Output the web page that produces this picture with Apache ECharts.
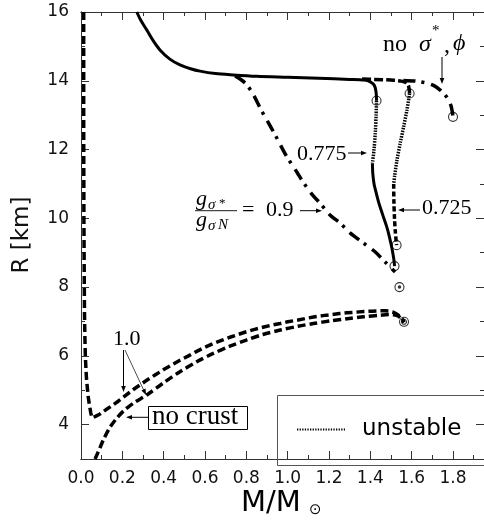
<!DOCTYPE html>
<html><head><meta charset="utf-8">
<script src="https://cdn.jsdelivr.net/npm/echarts@6/dist/echarts.min.js"></script>
<style>html,body{margin:0;padding:0;background:#fff}#c{width:484px;height:520px}</style>
</head><body><div id="c"></div>
<script>
// ---- tick values ----
const xTicks = [0, 0.2, 0.4, 0.6, 0.8, 1.0, 1.2, 1.4, 1.6, 1.8];
const xMinorTicks = [0.1, 0.3, 0.5, 0.7, 0.9, 1.1, 1.3, 1.5, 1.7, 1.9];
const yTicks = [4, 6, 8, 10, 12, 14, 16];
const yMinorTicks = [3, 5, 7, 9, 11, 13, 15];

// ---- curves (M [Msun], R [km]) ----
const main0775Stable = [[0.27,16.0],[0.29,15.75],[0.318,15.48],[0.35,15.16],[0.383,14.89],[0.43,14.63],[0.479,14.46],[0.53,14.35],[0.576,14.28],[0.65,14.21],[0.737,14.17],[0.85,14.13],[1.0,14.1],[1.15,14.07],[1.3,14.04],[1.37,14.02],[1.40,13.97],[1.418,13.88],[1.427,13.7],[1.43,13.42]];
const unstable0775 = [[1.43,13.42],[1.428,13.0],[1.424,12.5],[1.418,12.0],[1.41,11.6]];
const third0775 = [[1.41,11.6],[1.412,11.3],[1.418,11.0],[1.425,10.82],[1.44,10.47],[1.46,10.1],[1.478,9.78],[1.49,9.52],[1.502,9.2],[1.51,8.95],[1.515,8.75],[1.517,8.61]];
const stable0725 = [[1.36,14.05],[1.42,14.04],[1.50,14.02],[1.55,13.99],[1.575,13.94],[1.585,13.85],[1.59,13.63]];
const unstable0725 = [[1.59,13.63],[1.577,13.15],[1.561,12.66],[1.545,12.2],[1.529,11.69],[1.518,11.25],[1.513,11.0]];
const third0725 = [[1.513,11.0],[1.514,10.5],[1.517,10.0],[1.521,9.6],[1.527,9.22]];
const noSigmaPhi = [[1.56,14.01],[1.62,13.99],[1.674,13.93],[1.71,13.85],[1.738,13.73],[1.76,13.6],[1.779,13.44],[1.79,13.28],[1.795,13.15],[1.80,12.95]];
const g09 = [[0.746,14.14],[0.775,14.03],[0.80,13.9],[0.834,13.6],[0.87,13.17],[0.905,12.8],[0.94,12.42],[0.973,12.04],[1.0,11.75],[1.045,11.34],[1.075,11.05],[1.12,10.68],[1.157,10.44],[1.206,10.09],[1.254,9.86],[1.303,9.57],[1.36,9.31],[1.424,9.02],[1.47,8.74],[1.52,8.44]];
const crust10 = [[0.013,16.0],[0.013,14.5],[0.013,13.0],[0.0135,11.5],[0.014,10.0],[0.015,9.0],[0.016,8.0],[0.017,7.2],[0.019,6.5],[0.021,6.0],[0.024,5.6],[0.027,5.3],[0.031,5.05],[0.035,4.8],[0.04,4.6],[0.047,4.35],[0.053,4.2],[0.07,4.24],[0.092,4.31],[0.12,4.43],[0.15,4.55],[0.18,4.68],[0.205,4.80],[0.26,5.05],[0.318,5.29],[0.36,5.45],[0.40,5.6],[0.44,5.74],[0.479,5.87],[0.52,6.0],[0.56,6.13],[0.60,6.25],[0.64,6.36],[0.68,6.45],[0.72,6.54],[0.76,6.62],[0.80,6.70],[0.84,6.77],[0.88,6.83],[0.92,6.89],[0.964,6.94],[1.0,6.99],[1.05,7.04],[1.09,7.09],[1.125,7.13],[1.17,7.17],[1.21,7.2],[1.25,7.23],[1.287,7.25],[1.33,7.27],[1.37,7.29],[1.41,7.3],[1.448,7.31],[1.47,7.31],[1.49,7.3],[1.51,7.27],[1.53,7.21],[1.546,7.13],[1.556,7.06],[1.563,6.99]];
const noCrust10 = [[0.068,3.0],[0.09,3.3],[0.11,3.58],[0.14,3.92],[0.175,4.2],[0.21,4.42],[0.26,4.65],[0.318,4.86],[0.40,5.22],[0.479,5.54],[0.56,5.83],[0.64,6.07],[0.72,6.28],[0.80,6.46],[0.88,6.62],[0.964,6.75],[1.05,6.86],[1.125,6.94],[1.21,7.02],[1.287,7.08],[1.37,7.14],[1.448,7.18],[1.49,7.2],[1.53,7.17],[1.55,7.08],[1.563,6.97]];
const endCircles = [[1.43,13.42],[1.59,13.63],[1.80,12.95],[1.527,9.22],[1.517,8.61],[1.541,8.0],[1.563,6.99]];
const innerCircles = [[1.563,6.99]];
const innerDots = [[1.541,8.0]];

const X_MAX = 1.95, Y_MIN = 3, Y_MAX = 16;
const AX = '#333';

function xAx(pos, ticks, len, labels) {
  return {type:'value', position:pos, min:0, max:X_MAX,
    axisLine:{show:true, onZero:false, lineStyle:{color:AX, width:1}},
    axisTick:{show:true, inside:true, length:len, customValues:ticks, lineStyle:{color:AX, width:1}},
    axisLabel: labels ? {show:true, customValues:ticks, formatter:v=>Number(v).toFixed(1), color:'#111', fontFamily:'DejaVu Sans', fontSize:17, margin:11} : {show:false},
    splitLine:{show:false}};
}
function yAx(pos, ticks, len, labels) {
  return {type:'value', position:pos, min:Y_MIN, max:Y_MAX,
    axisLine:{show:true, onZero:false, lineStyle:{color:AX, width:1}},
    axisTick:{show:true, inside:true, length:len, customValues:ticks, lineStyle:{color:AX, width:1}},
    axisLabel: labels ? {show:true, customValues:ticks, formatter:v=>String(Math.round(v)), color:'#111', fontFamily:'DejaVu Sans', fontSize:17, margin:12} : {show:false},
    splitLine:{show:false}};
}
function line(data, type, width, sm) {
  return {type:'line', data, symbol:'none', showSymbol:false, smooth:(sm===undefined?0.3:sm), silent:true, z:3,
    lineStyle:{color:'#000', width, type}};
}
function arrow(x1,y1,x2,y2, w) {
  const dx=x2-x1, dy=y2-y1, L=Math.hypot(dx,dy), ux=dx/L, uy=dy/L, px=-uy, py=ux, h=6, hw=2.3;
  return [
    {type:'line', shape:{x1,y1,x2:x2-ux*h*0.6,y2:y2-uy*h*0.6}, style:{stroke:'#000', lineWidth:w||1}, silent:true, z:10},
    {type:'polygon', shape:{points:[[x2,y2],[x2-ux*h+px*hw,y2-uy*h+py*hw],[x2-ux*h-px*hw,y2-uy*h-py*hw]]}, style:{fill:'#000'}, silent:true, z:10}
  ];
}
function txt(s, x, y, size, fam, italic, align) {
  const f = (italic?'italic ':'') + size + 'px ' + fam;
  return {type:'text', silent:true, z:10, style:{text:s, x, y, font:f, fill:'#000',
    textAlign:align||'left', align:align||'left', textVerticalAlign:'middle', verticalAlign:'middle'}};
}
const SERIF = '"Liberation Serif","DejaVu Serif",serif';
const SANS = '"DejaVu Sans",sans-serif';

const chart = echarts.init(document.getElementById('c'), null, {renderer:'canvas'});
const graphics = [].concat(
  // no sigma*, phi
  txt('no', 383, 45, 24, SERIF),
  txt('σ', 419, 45, 24, SERIF, true),
  txt('*', 432, 31, 15, SERIF),
  txt(',', 444, 46, 24, SERIF),
  txt('ϕ', 453, 44, 24, SERIF, true),
  arrow(442, 57, 442, 84),
  // 0.775
  txt('0.775', 297, 154, 22, SERIF),
  arrow(348, 153, 367, 153),
  // 0.725
  txt('0.725', 422, 208.5, 22, SERIF),
  arrow(420, 210, 398, 210),
  // fraction = 0.9
  txt('g', 196, 199, 22, SERIF, true),
  txt('σ', 208, 205, 15, SERIF, true),
  txt('*', 219, 204, 13, SERIF),
  {type:'line', shape:{x1:195, y1:210.7, x2:237, y2:210.7}, style:{stroke:'#000', lineWidth:0.9}, silent:true, z:10},
  txt('g', 196, 220, 22, SERIF, true),
  txt('σ', 208, 226, 15, SERIF, true),
  txt('N', 218, 225, 15, SERIF, true),
  txt('=', 242, 210, 22, SERIF),
  txt('0.9', 266, 210, 22, SERIF),
  arrow(300, 210.7, 322, 210.7),
  // 1.0
  txt('1.0', 113, 339, 22, SERIF),
  arrow(123.5, 350, 123.5, 392),
  arrow(125, 350, 146, 395, 0.7),
  // no crust
  {type:'rect', shape:{x:148.5, y:406.5, width:99, height:23}, style:{fill:'none', stroke:'#000', lineWidth:1}, silent:true, z:10},
  txt('no crust', 152, 417, 27, SERIF),
  arrow(148, 417.3, 126, 417.3),
  // legend
  {type:'rect', shape:{x:277.5, y:395.5, width:212, height:70}, style:{fill:'none', stroke:'#555', lineWidth:1}, silent:true, z:10},
  {type:'line', shape:{x1:297, y1:429.5, x2:345, y2:429.5}, style:{stroke:'#000', lineWidth:2.2, lineDash:[1.3,1.3]}, silent:true, z:10},
  txt('unstable', 362, 429, 23, SANS),
  // axis titles
  {type:'text', silent:true, z:10, x:22, y:235, rotation:Math.PI/2,
    style:{text:'R [km]', x:0, y:0, font:'23px '+SANS, fill:'#111', textAlign:'center', align:'center', textVerticalAlign:'middle', verticalAlign:'middle'}},
  txt('M/M', 241, 503, 29, SANS),
  txt('⊙', 309, 510, 15, SANS)
);

chart.setOption({
  animation:false,
  backgroundColor:'#fff',
  grid:{left:81, right:0, top:12, bottom:61, containLabel:false},
  xAxis:[xAx('bottom', xTicks, 8, true), xAx('bottom', xMinorTicks, 4, false), xAx('top', xTicks, 8, false), xAx('top', xMinorTicks, 4, false)],
  yAxis:[yAx('left', yTicks, 8, true), yAx('left', yMinorTicks, 4, false), yAx('right', yTicks, 8, false), yAx('right', yMinorTicks, 4, false)],
  series:[
    line(crust10, [8,4], 3.5, false),
    line(noCrust10, [8,4], 3.5),
    line(g09, [12,6,3,7], 3.5),
    line(noSigmaPhi, [12,6,3,7], 3.5),
    line(stable0725, [9,3], 3.5),
    line(third0725, [5,2.5], 3.5),
    line(unstable0725, [1.5,1.2], 3.5),
    line(unstable0775, [1.5,1.2], 3.5),
    line(main0775Stable, 'solid', 3),
    line(third0775, 'solid', 3),
    {type:'scatter', data:endCircles, symbol:'circle', symbolSize:9, silent:true, z:5,
      itemStyle:{color:'rgba(255,255,255,0)', borderColor:'#000', borderWidth:1.1}},
    {type:'scatter', data:innerCircles, symbol:'circle', symbolSize:5, silent:true, z:5,
      itemStyle:{color:'rgba(255,255,255,0)', borderColor:'#000', borderWidth:1.1}},
    {type:'scatter', data:innerDots, symbol:'circle', symbolSize:3.5, silent:true, z:5,
      itemStyle:{color:'#000'}}
  ],
  graphic:{elements:graphics}
});
</script></body></html>
